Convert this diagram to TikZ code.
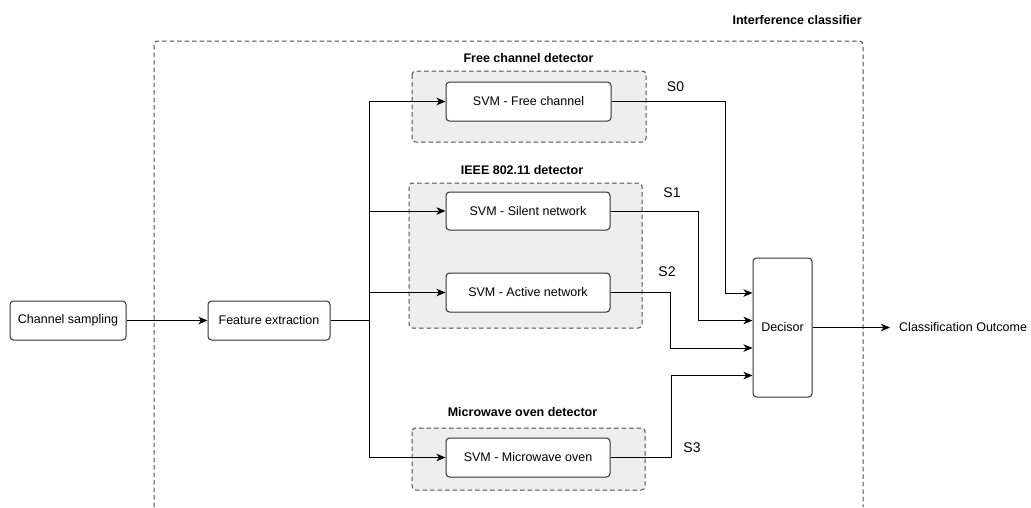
\documentclass[tikz,border=0pt]{standalone}
\usepackage{fontspec}
\setmainfont{Liberation Sans}
\usetikzlibrary{arrows.meta,calc}
\definecolor{groupfill}{HTML}{EEEEEE}
\definecolor{groupline}{HTML}{4D4D4D}
\definecolor{boxline}{HTML}{333333}
\tikzset{
  blk/.style={draw=boxline, line width=1pt, rounded corners=3.5pt, fill=white,
    font=\fontsize{12.5}{14}\selectfont, inner sep=0pt, align=center},
  dashline/.style={draw=groupline, line width=1pt, dash pattern=on 4.5pt off 3pt,
    rounded corners=3.5pt},
  grp/.style={dashline, fill=groupfill},
  gtitle/.style={font=\bfseries\fontsize{12.5}{14}\selectfont, inner sep=0pt},
  siglabel/.style={font=\fontsize{14}{16}\selectfont, inner sep=0pt},
  wire/.style={line width=1pt, draw=black},
  arr/.style={wire, -{Stealth[length=9pt,width=7.5pt,inset=2.5pt]}},
}
\begin{document}
\begin{tikzpicture}[x=1pt,y=-1pt]
\useasboundingbox (0,0) rectangle (1031,507);

% outer classifier frame (runs past the lower edge)
\draw[dashline] (154,507) -- (154,41) -- (863,41) -- (863,507);
\node[gtitle, anchor=east] (ictitle) at (862,20) {Interference classifier};

% detector groups
\draw[grp] (412,71) rectangle (646,142);
\node[gtitle] (fctitle) at (528.5,58) {Free channel detector};
\draw[grp] (409,183) rectangle (642,328);
\node[gtitle] (ieeetitle) at (522,170) {IEEE 802.11 detector};
\draw[grp] (412,428) rectangle (645,490);
\node[gtitle] (mwtitle) at (522.5,412) {Microwave oven detector};

% blocks
\node[blk, minimum width=116pt, minimum height=39pt] (cs) at (68,320.5) {Channel sampling};
\node[blk, minimum width=122pt, minimum height=39pt] (fe) at (269,320.5) {Feature extraction};
\node[blk, minimum width=165pt, minimum height=39pt] (fc) at (528.5,101.5) {SVM - Free channel};
\node[blk, minimum width=164pt, minimum height=38pt] (sn) at (528,211) {SVM - Silent network};
\node[blk, minimum width=164pt, minimum height=39pt] (an) at (528,292.5) {SVM - Active network};
\node[blk, minimum width=164pt, minimum height=39pt] (mw) at (528,457.5) {SVM - Microwave oven};
\node[blk, minimum width=59pt, minimum height=139pt] (dec) at (782.5,327.5) {Decisor};
\node[font=\fontsize{12.5}{14}\selectfont, inner sep=0pt, anchor=west] (out) at (899,327.5) {Classification Outcome};

% feature bus
\coordinate (bus) at (369,320.5);
\draw[wire] (fe.east) -- (bus);
\draw[wire] (bus |- fc) -- (bus |- mw);
\draw[arr] (cs.east) -- (fe.west);
\draw[arr] (bus |- fc) -- (fc.west);
\draw[arr] (bus |- sn) -- (sn.west);
\draw[arr] (bus |- an) -- (an.west);
\draw[arr] (bus |- mw) -- (mw.west);

% detector outputs into the decisor
\coordinate (d0) at (752.5,293);
\coordinate (d1) at (752.5,320.5);
\coordinate (d2) at (752.5,348);
\coordinate (d3) at (752.5,375.5);
\coordinate (v0) at (725,0);
\coordinate (v1) at (698,0);
\coordinate (v2) at (670,0);
\coordinate (v3) at (671,0);
\draw[arr] (fc.east) -- (v0 |- fc) -- (v0 |- d0) -- (d0);
\draw[arr] (sn.east) -- (v1 |- sn) -- (v1 |- d1) -- (d1);
\draw[arr] (an.east) -- (v2 |- an) -- (v2 |- d2) -- (d2);
\draw[arr] (mw.east) -- (v3 |- mw) -- (v3 |- d3) -- (d3);
\coordinate (outend) at (890,327.5);
\draw[arr] (dec.east) -- (outend);

% signal labels
\node[siglabel] (s0) at (675.5,87) {S0};
\node[siglabel] (s1) at (672,193) {S1};
\node[siglabel] (s2) at (667,272) {S2};
\node[siglabel] (s3) at (692,448) {S3};
\end{tikzpicture}
\end{document}
